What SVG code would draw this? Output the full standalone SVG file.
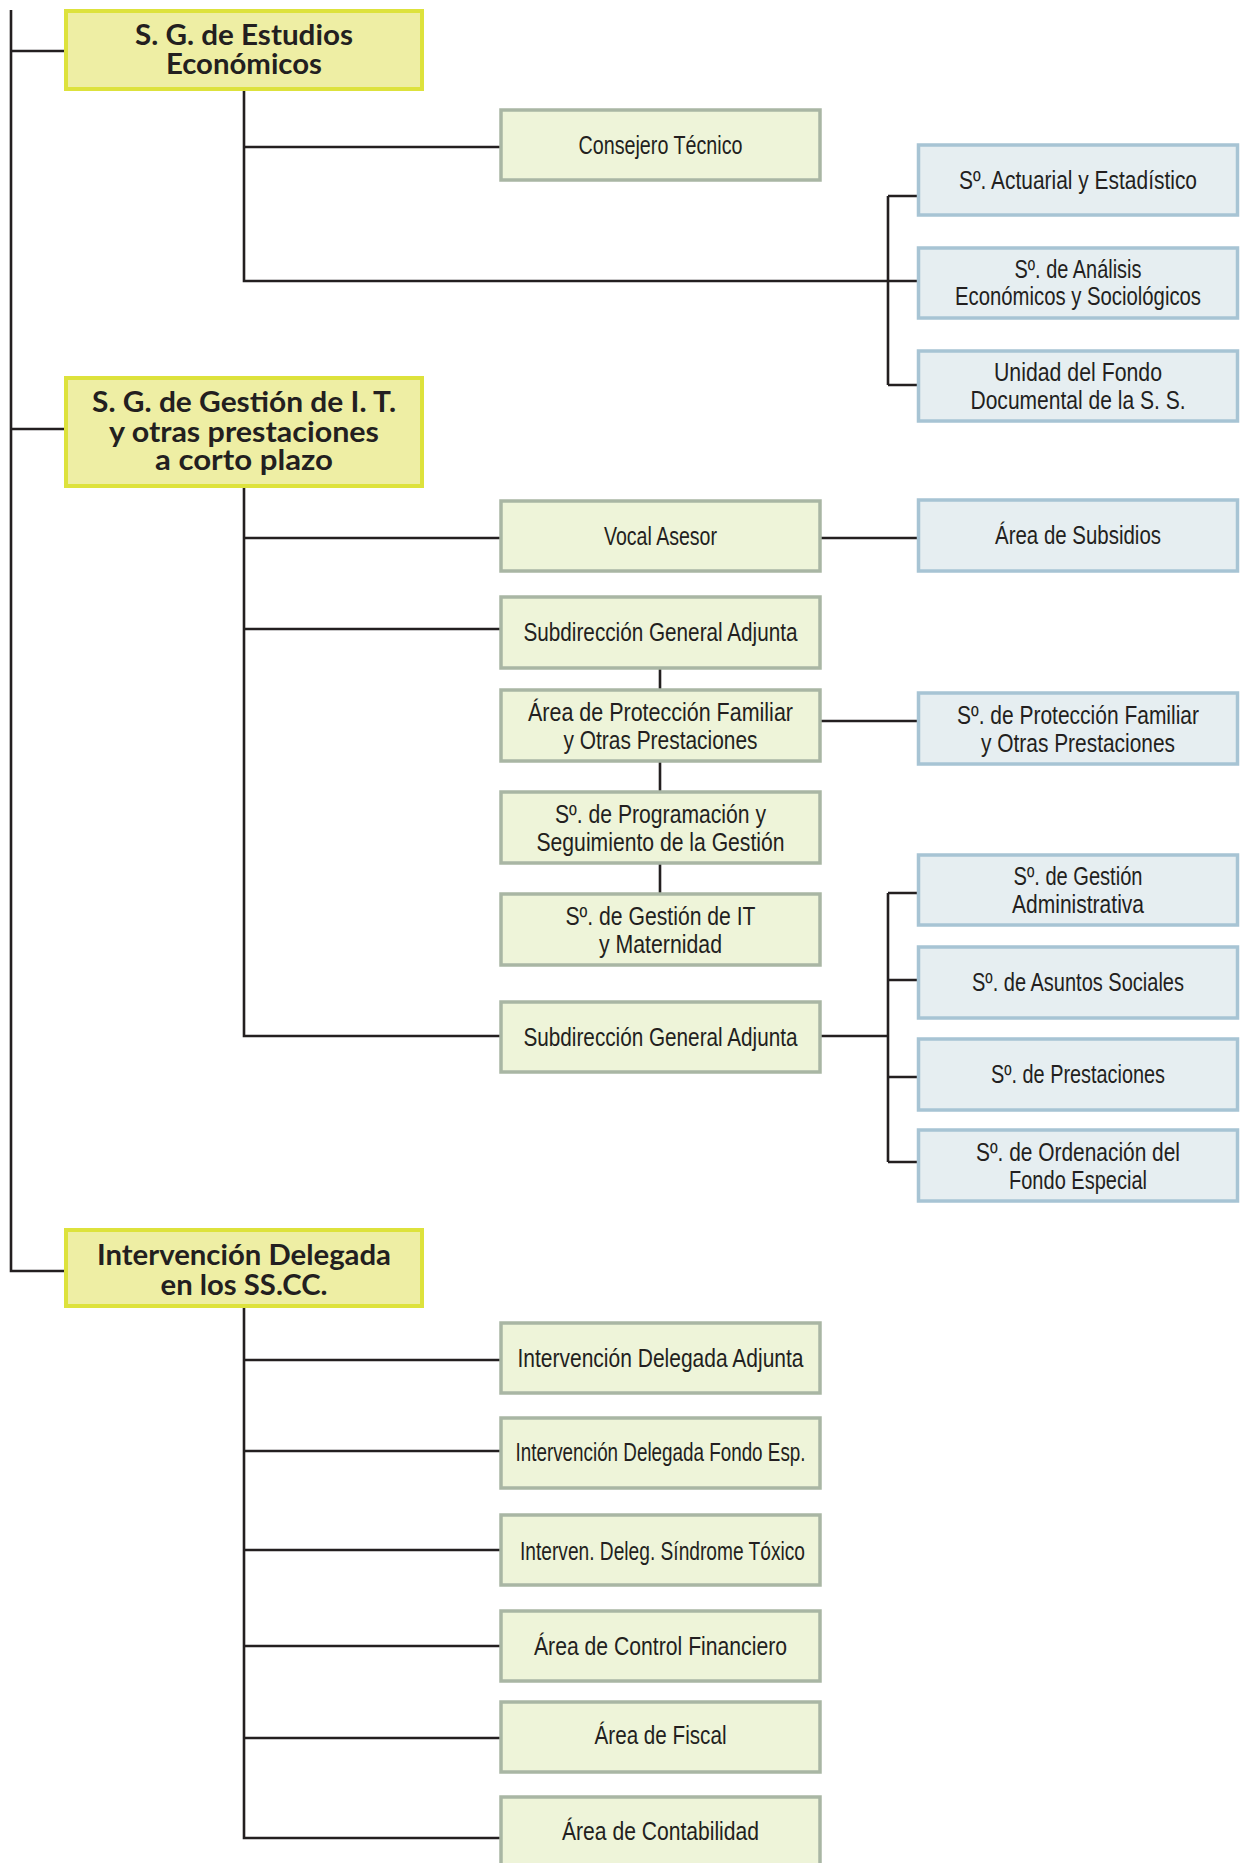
<svg xmlns="http://www.w3.org/2000/svg" width="1242" height="1863" viewBox="0 0 1242 1863">
<style>
.top rect{fill:#eeeea4;stroke:#dde23c;stroke-width:4}
.grn rect{fill:#eef4d9;stroke:#a9b6a4;stroke-width:3.5}
.blu rect{fill:#e6eef1;stroke:#a7c4d4;stroke-width:3.5}
text{fill:#231f20;text-anchor:middle}
.top text{font-family:Lato,"Open Sans","Liberation Sans",sans-serif;font-weight:bold;font-size:29px}
.grn text,.blu text{font-family:"Liberation Sans Narrow","Liberation Sans","DejaVu Sans",sans-serif;font-size:26px}
#connectors path{fill:none;stroke:#231f20;stroke-width:2.6}
</style>
<rect width="1242" height="1863" fill="#ffffff"/>
<g id="connectors">
<path d="M11 10V1271H66"/>
<path d="M11 51H66"/>
<path d="M11 429H66"/>
<path d="M244 91V281H918M244 147H501"/>
<path d="M888 196V385M888 196H918M888 385H918"/>
<path d="M244 488V1036H501M244 538H501M244 629H501"/>
<path d="M820 538H918M820 721H918"/>
<path d="M660 669V690M660 762V792M660 864V894"/>
<path d="M820 1036H888M888 893V1162M888 893H918M888 980H918M888 1077H918M888 1162H918"/>
<path d="M244 1308V1838H501M244 1360H501M244 1451H501M244 1550H501M244 1646H501M244 1738H501"/>
</g>
<g id="n1" class="top"><rect x="66" y="11" width="356" height="78"/><text x="244" y="45" textLength="218" lengthAdjust="spacingAndGlyphs">S. G. de Estudios</text><text x="244" y="74" textLength="156" lengthAdjust="spacingAndGlyphs">Económicos</text></g>
<g id="n2" class="top"><rect x="66" y="378" width="356" height="108"/><text x="244" y="412" textLength="304" lengthAdjust="spacingAndGlyphs">S. G. de Gestión de I. T.</text><text x="244" y="442" textLength="270" lengthAdjust="spacingAndGlyphs">y otras prestaciones</text><text x="244" y="470" textLength="178" lengthAdjust="spacingAndGlyphs">a corto plazo</text></g>
<g id="n3" class="top"><rect x="66" y="1230" width="356" height="76"/><text x="244" y="1265" textLength="294" lengthAdjust="spacingAndGlyphs">Intervención Delegada</text><text x="244" y="1295" textLength="167" lengthAdjust="spacingAndGlyphs">en los SS.CC.</text></g>

<g id="consejero" class="grn"><rect x="501" y="110" width="319" height="70"/><text x="660.5" y="154" textLength="164" lengthAdjust="spacingAndGlyphs">Consejero Técnico</text></g>
<g id="actuarial" class="blu"><rect x="918.5" y="145" width="319" height="70"/><text x="1078" y="189" textLength="238" lengthAdjust="spacingAndGlyphs">Sº. Actuarial y Estadístico</text></g>
<g id="analisis" class="blu"><rect x="918.5" y="248" width="319" height="70"/><text x="1078" y="278" textLength="127" lengthAdjust="spacingAndGlyphs">Sº. de Análisis</text><text x="1078" y="305" textLength="246" lengthAdjust="spacingAndGlyphs">Económicos y Sociológicos</text></g>
<g id="unidad" class="blu"><rect x="918.5" y="351" width="319" height="70"/><text x="1078" y="381" textLength="168" lengthAdjust="spacingAndGlyphs">Unidad del Fondo</text><text x="1078" y="409" textLength="215" lengthAdjust="spacingAndGlyphs">Documental de la S. S.</text></g>

<g id="vocal" class="grn"><rect x="501" y="501" width="319" height="70"/><text x="660.5" y="545" textLength="113" lengthAdjust="spacingAndGlyphs">Vocal Asesor</text></g>
<g id="subsidios" class="blu"><rect x="918.5" y="500" width="319" height="71"/><text x="1078" y="544" textLength="166" lengthAdjust="spacingAndGlyphs">Área de Subsidios</text></g>
<g id="sga1" class="grn"><rect x="501" y="597" width="319" height="71"/><text x="660.5" y="641" textLength="274" lengthAdjust="spacingAndGlyphs">Subdirección General Adjunta</text></g>
<g id="apf" class="grn"><rect x="501" y="690" width="319" height="71"/><text x="660.5" y="721" textLength="265" lengthAdjust="spacingAndGlyphs">Área de Protección Familiar</text><text x="660.5" y="749" textLength="194" lengthAdjust="spacingAndGlyphs">y Otras Prestaciones</text></g>
<g id="spf" class="blu"><rect x="918.5" y="693" width="319" height="71"/><text x="1078" y="724" textLength="242" lengthAdjust="spacingAndGlyphs">Sº. de Protección Familiar</text><text x="1078" y="752" textLength="194" lengthAdjust="spacingAndGlyphs">y Otras Prestaciones</text></g>
<g id="prog" class="grn"><rect x="501" y="792" width="319" height="71"/><text x="660.5" y="823" textLength="211" lengthAdjust="spacingAndGlyphs">Sº. de Programación y</text><text x="660.5" y="851" textLength="248" lengthAdjust="spacingAndGlyphs">Seguimiento de la Gestión</text></g>
<g id="sgit" class="grn"><rect x="501" y="894" width="319" height="71"/><text x="660.5" y="925" textLength="190" lengthAdjust="spacingAndGlyphs">Sº. de Gestión de IT</text><text x="660.5" y="953" textLength="123" lengthAdjust="spacingAndGlyphs">y Maternidad</text></g>
<g id="sga2" class="grn"><rect x="501" y="1002" width="319" height="70"/><text x="660.5" y="1046" textLength="274" lengthAdjust="spacingAndGlyphs">Subdirección General Adjunta</text></g>
<g id="gadm" class="blu"><rect x="918.5" y="855" width="319" height="70"/><text x="1078" y="885" textLength="129" lengthAdjust="spacingAndGlyphs">Sº. de Gestión</text><text x="1078" y="913" textLength="132" lengthAdjust="spacingAndGlyphs">Administrativa</text></g>
<g id="asuntos" class="blu"><rect x="918.5" y="947" width="319" height="71"/><text x="1078" y="991" textLength="212" lengthAdjust="spacingAndGlyphs">Sº. de Asuntos Sociales</text></g>
<g id="prest" class="blu"><rect x="918.5" y="1039" width="319" height="71"/><text x="1078" y="1083" textLength="174" lengthAdjust="spacingAndGlyphs">Sº. de Prestaciones</text></g>
<g id="orden" class="blu"><rect x="918.5" y="1130" width="319" height="71"/><text x="1078" y="1161" textLength="204" lengthAdjust="spacingAndGlyphs">Sº. de Ordenación del</text><text x="1078" y="1189" textLength="138" lengthAdjust="spacingAndGlyphs">Fondo Especial</text></g>

<g id="ida" class="grn"><rect x="501" y="1323" width="319" height="70"/><text x="660.5" y="1367" textLength="286" lengthAdjust="spacingAndGlyphs">Intervención Delegada Adjunta</text></g>
<g id="idfe" class="grn"><rect x="501" y="1418" width="319" height="70"/><text x="660.5" y="1461" textLength="290" lengthAdjust="spacingAndGlyphs">Intervención Delegada Fondo Esp.</text></g>
<g id="idst" class="grn"><rect x="501" y="1515" width="319" height="70"/><text x="662.5" y="1560" textLength="285" lengthAdjust="spacingAndGlyphs">Interven. Deleg. Síndrome Tóxico</text></g>
<g id="acf" class="grn"><rect x="501" y="1611" width="319" height="70"/><text x="660.5" y="1655" textLength="253" lengthAdjust="spacingAndGlyphs">Área de Control Financiero</text></g>
<g id="afiscal" class="grn"><rect x="501" y="1702" width="319" height="70"/><text x="660.5" y="1744" textLength="132" lengthAdjust="spacingAndGlyphs">Área de Fiscal</text></g>
<g id="acont" class="grn"><rect x="501" y="1797" width="319" height="90"/><text x="660.5" y="1840" textLength="197" lengthAdjust="spacingAndGlyphs">Área de Contabilidad</text></g>
</svg>
